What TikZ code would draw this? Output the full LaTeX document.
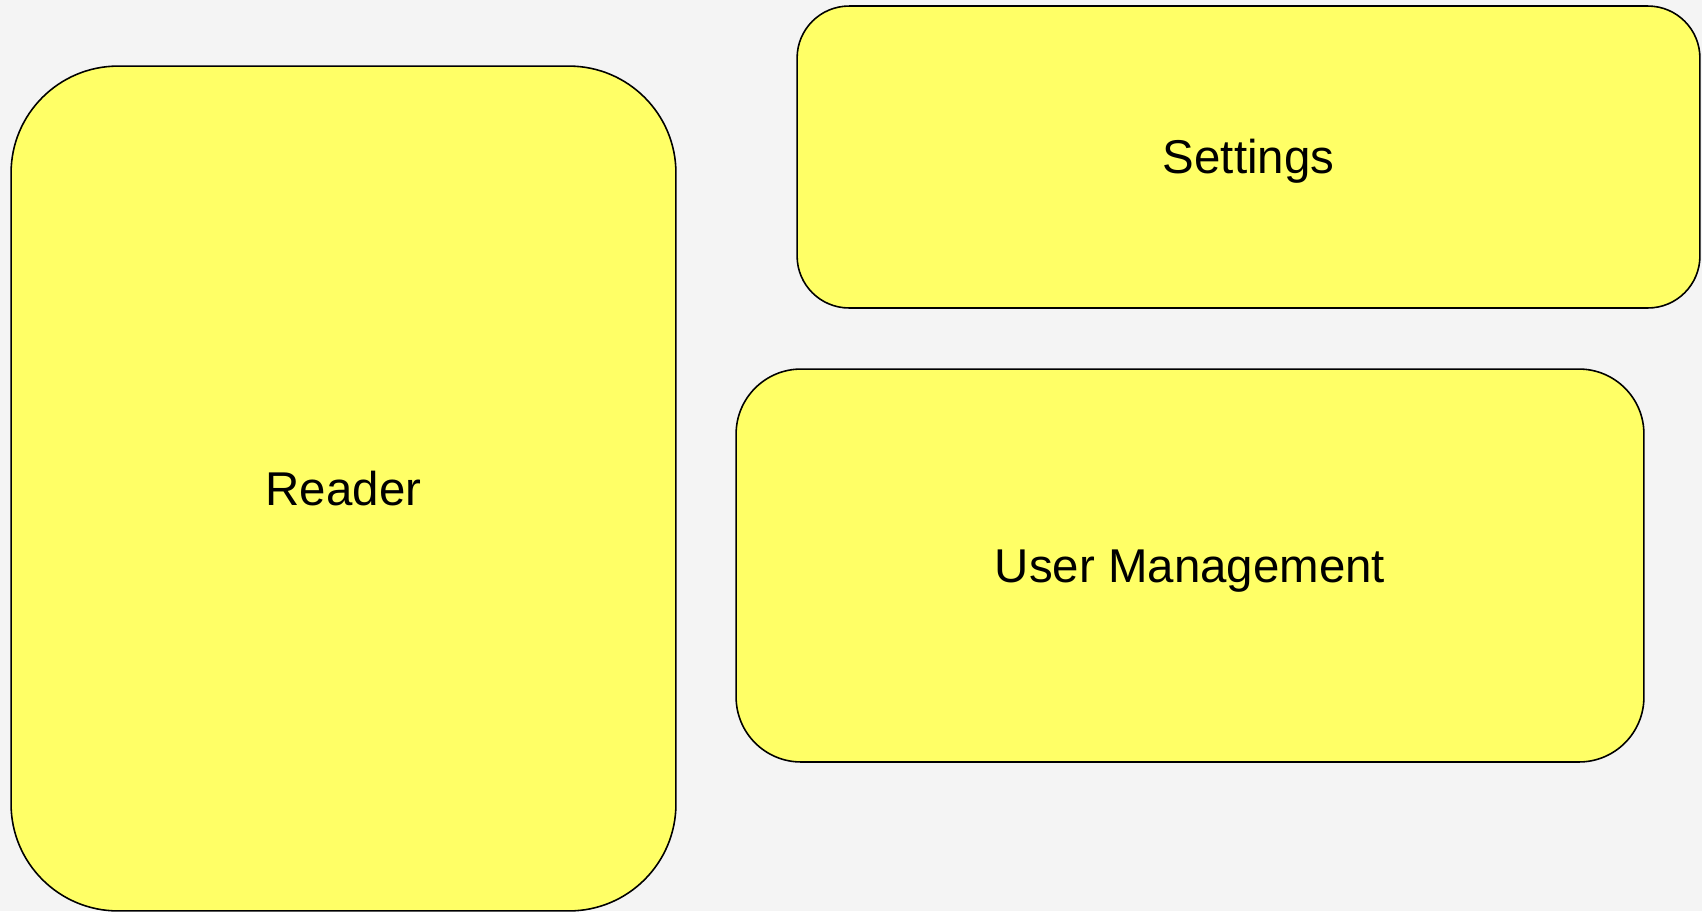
\documentclass[tikz,border=0pt]{standalone}
\usepackage{fontspec}
\setmainfont{Liberation Sans}
\definecolor{pagegray}{HTML}{F4F4F4}
\definecolor{moduleyellow}{HTML}{FFFF66}

\begin{document}
\begin{tikzpicture}[x=0.02cm,y=-0.02cm,
    module/.style={draw=black,line width=0.9pt,fill=moduleyellow,
      font=\fontsize{27}{32}\selectfont,align=center,inner sep=0pt,
      text height=19.3pt,text depth=0pt}]
  % page background, also fixes the size
  \fill[pagegray] (0,0) rectangle (1702,911);
  \node[module,rounded corners=2.14cm,minimum width=13.3cm,minimum height=16.9cm]
    (reader) at (343.5,488.5) {Reader};
  \node[module,rounded corners=1.04cm,minimum width=18.06cm,minimum height=6.04cm]
    (settings) at (1248.5,157) {Settings};
  \node[module,rounded corners=1.3cm,minimum width=18.16cm,minimum height=7.86cm]
    (usermgmt) at (1190,565.5) {User Management};
\end{tikzpicture}
\end{document}
